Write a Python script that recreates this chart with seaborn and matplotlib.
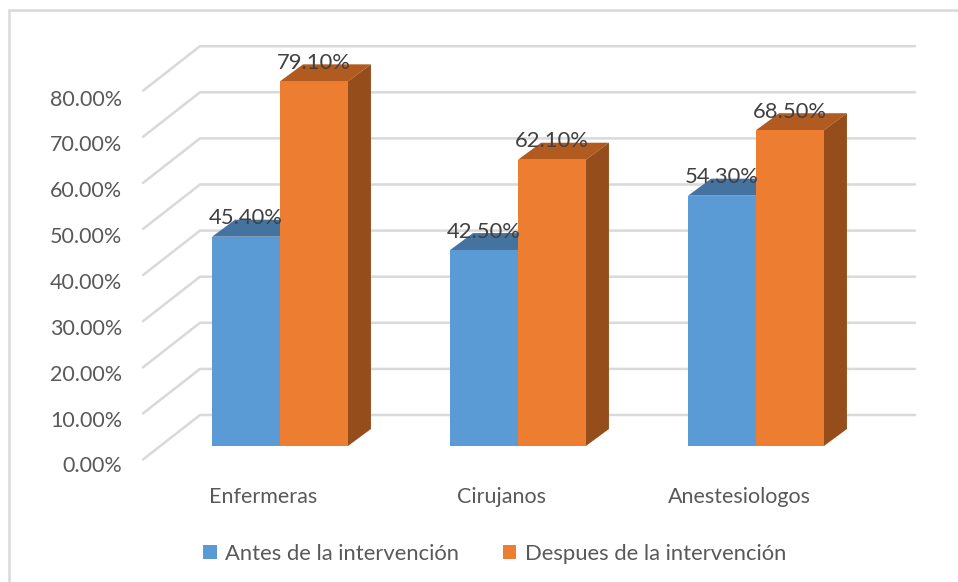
import matplotlib
matplotlib.use("Agg")
import matplotlib.pyplot as plt
import pandas as pd
import seaborn as sns
from matplotlib.lines import Line2D
from matplotlib.patches import Polygon

categories = ["Enfermeras", "Cirujanos", "Anestesiologos"]
series_names = ["Antes de la intervención", "Despues de la intervención"]
antes = [45.4, 42.5, 54.3]
despues = [79.1, 62.1, 68.5]
tick_values = [0, 10, 20, 30, 40, 50, 60, 70, 80]

W, H = 958, 582
BLUE, ORANGE = "#5B9BD5", "#ED7D31"
TOP = {BLUE: "#44739F", ORANGE: "#B25B20"}
SIDE = {BLUE: "#44739F", ORANGE: "#954E1B"}
GRID = "#D9D9D9"
TXT = "#595959"

sns.set_theme(style="white")
plt.rcParams["font.family"] = ["Lato", "DejaVu Sans"]

df = pd.DataFrame({
    "cat": categories * 2,
    "serie": [series_names[0]] * 3 + [series_names[1]] * 3,
    "val": antes + despues,
})

fig = plt.figure(figsize=(W / 100, H / 100), dpi=100, facecolor="white")
# axes spans px x 143..915, y 46..470
L, R, T, B = 143, 915, 46, 470
ax = fig.add_axes([L / W, 1 - B / H, (R - L) / W, (B - T) / H])
PX_X = 238.0      # px per category
PX_Y = 4.61       # px per percentage point
ax.patch.set_alpha(0)

sns.barplot(data=df, x="cat", y="val", hue="serie", order=categories,
            hue_order=series_names, palette=[BLUE, ORANGE], width=0.571, gap=0,
            saturation=1, errorbar=None, ax=ax, zorder=3, linewidth=0)

for s in ax.spines.values():
    s.set_visible(False)
ax.set_xlabel("")
ax.set_ylabel("")

XLIM = (-(280 - L) / PX_X, (R - 756) / PX_X + 2)
YLIM = (-(B - 446) / PX_Y, (446 - T) / PX_Y)

# back wall gridlines and the floor/side wall diagonals
wall_dy = 31 / PX_Y
wall_x0 = -(280 - 200) / PX_X
diag_x = -(280 - 143) / PX_X
diag_dy = 44.5 / PX_Y
for v in tick_values:
    yw = v + wall_dy
    ax.plot([diag_x, wall_x0, XLIM[1]], [yw - diag_dy, yw, yw],
            color=GRID, lw=1.8, zorder=1, clip_on=False, solid_joinstyle="miter")

# pseudo 3D faces built from each bar that seaborn drew
dx, dy = 23 / PX_X, 17 / PX_Y
for cont, col in zip(ax.containers, [BLUE, ORANGE]):
    for bar in cont:
        x0, w, h = bar.get_x(), bar.get_width(), bar.get_height()
        x1 = x0 + w
        ax.add_patch(Polygon([(x0, h), (x1, h), (x1 + dx, h + dy), (x0 + dx, h + dy)],
                             closed=True, fc=TOP[col], ec="none", zorder=2, clip_on=False))
        ax.add_patch(Polygon([(x1, 0), (x1 + dx, dy), (x1 + dx, h + dy), (x1, h)],
                             closed=True, fc=SIDE[col], ec="none", zorder=2, clip_on=False))
        ax.annotate(f"{h:.2f}%", (x0 + w / 2, h), xytext=(0, 18.5 * 0.72),
                    textcoords="offset points", ha="center", va="center",
                    fontsize=15.8, color="#404040", zorder=5, annotation_clip=False)

# ticks
label_dy = 18.5 / PX_Y
ax.set_yticks([v * 0.995 - label_dy for v in tick_values], [f"{v:.2f}%" for v in tick_values])
ax.set_xticks([i - 17 / PX_X for i in range(3)], categories)
ax.tick_params(axis="y", length=0, pad=21 * 0.72, labelsize=15.5, labelcolor=TXT)
ax.tick_params(axis="x", length=0, pad=17 * 0.72, labelsize=15.5, labelcolor=TXT)
ax.grid(False)
ax.set_xlim(*XLIM)
ax.set_ylim(*YLIM)

# legend
sns.move_legend(ax, "center left", bbox_to_anchor=(203 / W, 1 - 554 / H),
                bbox_transform=fig.transFigure, ncol=2, frameon=False, title=None,
                fontsize=15.8, labelcolor=TXT, handlelength=0.62, handleheight=0.62,
                handletextpad=0.38, columnspacing=2.0, borderaxespad=0, borderpad=0)

# chart area border, open at right and bottom
fig.add_artist(Line2D([9 / W, 9 / W, 1], [0, 1 - 10 / H, 1 - 10 / H],
                      transform=fig.transFigure, color=GRID, lw=1.8,
                      solid_joinstyle="miter"))

fig.savefig("out.png", dpi=100, facecolor="white")
